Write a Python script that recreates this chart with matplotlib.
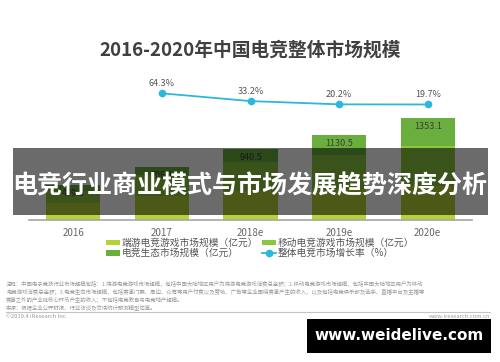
import numpy as np
import matplotlib.pyplot as plt
from matplotlib.patches import Rectangle

plt.rcParams['font.family'] = ['Noto Sans CJK SC', 'DejaVu Sans']

years = ['2016', '2017', '2018e', '2019e', '2020e']
pc_games = [228.5, 320.5, 388.2, 415.2, 444.5]      # 端游电竞游戏
mobile_games = [161.6, 271.5, 380.3, 450.3, 530.6]  # 移动电竞游戏
ecosystem = [69.7, 114.1, 172.0, 265.0, 378.0]      # 电竞生态
totals = [459.8, 706.1, 940.5, 1130.5, 1353.1]
growth = [None, 64.3, 33.2, 20.2, 19.7]

c_pc = '#b4d335'
c_mobile = '#8cc63f'
c_eco = '#6aae3e'
c_line = '#2bb8dc'

fig = plt.figure(figsize=(5, 3.62), dpi=100)
W, H = 500, 362
ax = fig.add_axes([29 / W, 1 - 220 / H, 443 / W, 160 / H])

x = np.arange(len(years))
bw = 0.61
ax.bar(x, pc_games, bw, color=c_pc, label='端游电竞游戏市场规模（亿元）')
ax.bar(x, mobile_games, bw, bottom=pc_games, color=c_mobile,
       label='移动电竞游戏市场规模（亿元）')
bottom2 = np.array(pc_games) + np.array(mobile_games)
ax.bar(x, ecosystem, bw, bottom=bottom2, color=c_eco, label='电竞生态市场规模（亿元）')

for xi, t in zip(x, totals):
    ax.annotate('{:.1f}'.format(t), (xi, t), xytext=(0, -3), textcoords='offset points',
                ha='center', va='top', fontsize=6.5, color='#3d3d3d')

ax.set_xlim(-0.5, 4.5)
ax.set_ylim(0, 2122)
ax.set_xticks(x)
ax.set_xticklabels(years, fontsize=7, color='#666666')
ax.tick_params(axis='x', length=0, pad=6)
ax.set_yticks([])
for s in ['top', 'left', 'right']:
    ax.spines[s].set_visible(False)
ax.spines['bottom'].set_color('#a6a6a6')
ax.spines['bottom'].set_linewidth(1.2)
ax.patch.set_alpha(0)

ax2 = ax.twinx()
gx = [xi for xi, g in zip(x, growth) if g is not None]
gy = [g for g in growth if g is not None]
ax2.plot(gx, gy, color=c_line, lw=1.3, marker='o', ms=4.5,
         label='整体电竞市场增长率（%）')
for xi, g in zip(gx, gy):
    ax2.annotate('{:.1f}%'.format(g), (xi, g), xytext=(0, 4), textcoords='offset points',
                 ha='center', va='bottom', fontsize=6.5, color='#555555')
ax2.set_ylim(-442.4, 197.6)
ax2.set_yticks([])
ax2.set_xlim(-0.5, 4.5)
for s in ax2.spines.values():
    s.set_visible(False)

h1, l1 = ax.get_legend_handles_labels()
h2, l2 = ax2.get_legend_handles_labels()
handles = [h1[0], h1[2], h1[1], h2[0]]
labels = [l1[0], l1[2], l1[1], l2[0]]
fig.legend(handles, labels, ncol=2, loc='center', bbox_to_anchor=(260 / W, 1 - 248 / H),
           frameon=False, fontsize=7.0, labelcolor='#555555', handlelength=1.4,
           handleheight=0.5, handletextpad=0.2, columnspacing=0.4, labelspacing=0.05,
           borderpad=0)

fig.text(0.5, 1 - 50 / H, '2016-2020年中国电竞整体市场规模', ha='center', va='center',
         fontsize=13.5, fontweight='bold', color='#404040')

note = ('注释：中国电子竞技行业市场规模包括：1.端游电竞游戏市场规模，包括中国大陆地区用户为端游电竞游戏消费总金额；2.移动电竞游戏市场规模，包括中国大陆地区用户为移动\n'
        '电竞游戏消费总金额；3.电竞生态市场规模，包括赛事门票、周边、众筹等用户付费以及赞助、广告等企业围绕赛事产生的收入，以及包括电竞俱乐部及选手、直播平台及主播等\n'
        '赛事之外的产业链核心环节产生的收入；不包括电竞教育与电竞地产规模。\n'
        '来源：根据企业公开财报、行业访谈及艾瑞统计预测模型估算。')
fig.text(6 / W, 1 - 281 / H, note, ha='left', va='top', fontsize=3.9, color='#9a9a9a',
         linespacing=1.35)
fig.add_artist(plt.Line2D([6 / W, 490 / W], [1 - 312 / H, 1 - 312 / H], color='#c4c4c4', lw=0.8))
fig.text(6 / W, 1 - 317 / H, '©2019.4 iResearch Inc.', ha='left', va='center', fontsize=4.2,
         color='#9a9a9a')
fig.text(490 / W, 1 - 317 / H, 'www.iresearch.com.cn', ha='right', va='center', fontsize=4.2,
         color='#9a9a9a')

# banner overlay
fig.add_artist(Rectangle((13 / W, 1 - 215 / H), 475 / W, 67 / H, transform=fig.transFigure,
                         facecolor='black', alpha=0.58, edgecolor='none', zorder=10))
fig.text(250 / W, 1 - 186 / H, '电竞行业商业模式与市场发展趋势深度分析', ha='center', va='center',
         fontsize=18.0, fontweight='bold', color='white', zorder=11)

# watermark box
fig.add_artist(Rectangle((307 / W, 1 - 353 / H), 184 / W, 34 / H, transform=fig.transFigure,
                         facecolor='black', edgecolor='none', zorder=10))
fig.text(399 / W, 1 - 336 / H, 'www.weidelive.com', ha='center', va='center',
         fontsize=11, fontweight='bold', color='white', family='DejaVu Sans', zorder=11)

fig.savefig('out.png', dpi=100, facecolor='white')
